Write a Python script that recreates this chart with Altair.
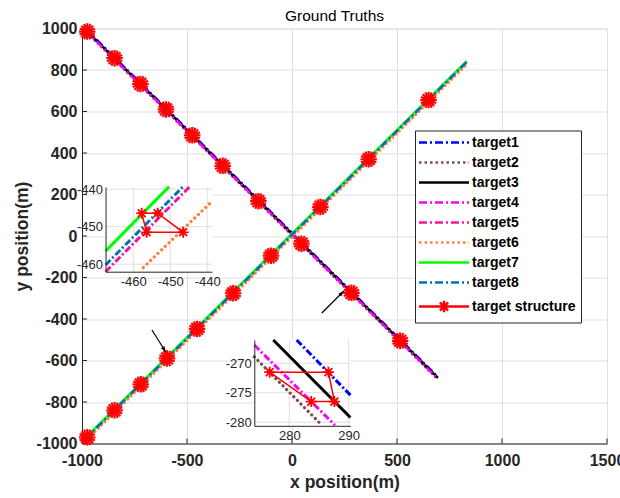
import altair as alt
import pandas as pd

# ---------------- data ----------------
target_names = ["target1", "target2", "target3", "target4",
                "target5", "target6", "target7", "target8"]
legend_names = target_names + ["target structure"]

# straight ground-truth trajectories: start / end points
traj_x0 = [-985, -985, -985, -985, -985, -985, -985, -985]
traj_y0 = [1000, 990, 996, 992, -980, -989, -974, -978]
traj_x1 = [695, 695, 695, 695, 832, 832, 832, 832]
traj_y1 = [-680, -690, -684, -688, 837, 828, 843, 839]

# formation (target structure) centres on both tracks
star_x = [-975, -845, -722, -600, -475, -330, -160, 45, 283, 515,
          -975, -845, -720, -595, -452, -280, -100, 135, 365, 650]
star_y = [985, 857, 733, 610, 485, 338, 168, -37, -274, -505,
          -970, -840, -715, -590, -448, -276, -95, 140, 370, 655]

# arrows (tail -> head)
arrow_x0 = [-667, 142]
arrow_y0 = [-453, -371]
arrow_x1 = [-601, 247]
arrow_y1 = [-559, -265]
arrow_angle = [147, 45]

# inset 1 (ascending track)
in1_xdom = [-467.5, -438.7]
in1_ydom = [-462.0, -439.4]
in1_xticks = [-460, -450, -440]
in1_yticks = [-460, -450, -440]
in1_lines = ["target7", "target8", "target5", "target6"]
in1_x0 = [-467.5, -467.5, -467.5, -457.3]
in1_y0 = [-456.5, -460.2, -462.0, -460.9]
in1_x1 = [-450.3, -446.5, -444.7, -439.3]
in1_y1 = [-439.3, -439.3, -439.3, -443.8]
in1_sx = [-457.7, -453.4, -446.5, -456.4, -457.7]
in1_sy = [-446.4, -446.4, -451.5, -451.5, -446.4]

# inset 2 (descending track)
in2_xdom = [274.1, 290.3]
in2_ydom = [-280.6, -266.05]
in2_xticks = [280, 290]
in2_yticks = [-280, -275, -270]
in2_lines = ["target3", "target1", "target4", "target2"]
in2_x0 = [277.3, 281.25, 274.1, 274.1]
in2_y0 = [-266.05, -266.05, -266.9, -268.9]
in2_x1 = [290.3, 290.3, 287.7, 285.5]
in2_y1 = [-279.2, -275.4, -280.5, -280.5]
in2_sx = [276.7, 286.6, 287.6, 283.7, 276.7]
in2_sy = [-271.5, -271.5, -276.5, -276.5, -271.5]

# ---------------- styles ----------------
FONT = "Liberation Sans"
DARK = "#262626"
GRID = "#dfdfdf"
colors = {"target1": "#0000FF", "target2": "#7E4F4F", "target3": "#000000",
          "target4": "#FF00FF", "target5": "#F0169B", "target6": "#FF7F3F",
          "target7": "#00FF00", "target8": "#0072BD", "target structure": "#FF0000"}
dashdot = [8, 3, 2, 3]
dot = [0.1, 4.5]
dashes = {"target1": dashdot, "target2": dot, "target3": None, "target4": dashdot,
          "target5": dashdot, "target6": dot, "target7": None, "target8": dashdot}
legend_dash = {"target1": [8, 3, 2, 3], "target2": [2.5, 3], "target3": [1, 0],
               "target4": [8, 3, 2, 3], "target5": [8, 3, 2, 3], "target6": [2.5, 3],
               "target7": [1, 0], "target8": [8, 3, 2, 3], "target structure": [1, 0]}
LINEPATH = "M-5,0L5,0"
STARLEG = "M-5,0L5,0M0,-1.15L0,1.15M-0.82,-0.82L0.82,0.82M-0.82,0.82L0.82,-0.82"
ASTER = "M0,-1L0,1M-1,0L1,0M-0.71,-0.71L0.71,0.71M-0.71,0.71L0.71,-0.71"
HEAD = "M0,0L-0.45,1.3L0.45,1.3Z"

W, H = 525, 415

# ---------------- main panel ----------------
xs = alt.Scale(domain=[-1000, 1500], nice=False, zero=False)
ys = alt.Scale(domain=[-1000, 1000], nice=False, zero=False)
common_axis = dict(grid=True, gridColor=GRID, gridWidth=1, ticks=False,
                   domainColor=DARK, domainWidth=1,
                   labelFont=FONT, labelFontSize=16, labelFontWeight="bold",
                   labelColor=DARK, labelFlush=False, labelOverlap=False,
                   labelBound=False, labelExpr="'' + datum.value",
                   titleFont=FONT, titleFontSize=17.5, titleFontWeight="bold",
                   titleColor=DARK)
x_axis = alt.Axis(orient="bottom", values=[-1000, -500, 0, 500, 1000, 1500],
                  title="x position(m)", labelPadding=9, titlePadding=5, **common_axis)
y_axis = alt.Axis(orient="left", values=list(range(-1000, 1001, 200)),
                  title="y position(m)", labelPadding=5, titlePadding=5, **common_axis)


def MX(f="x"):
    return alt.X(f"{f}:Q", scale=xs, axis=x_axis)


def MY(f="y"):
    return alt.Y(f"{f}:Q", scale=ys, axis=y_axis)


main_layers = []

# inward ticks
xt = pd.DataFrame({"x": [-1000, -500, 0, 500, 1000, 1500]})
main_layers.append(alt.Chart(xt).mark_rule(color=DARK, strokeWidth=1).encode(
    x=MX(), y=alt.value(H), y2=alt.value(H - 5)))
yt = pd.DataFrame({"y": list(range(-1000, 1001, 200))})
main_layers.append(alt.Chart(yt).mark_rule(color=DARK, strokeWidth=1).encode(
    y=MY(), x=alt.value(0), x2=alt.value(5)))

for i, name in enumerate(target_names):
    df = pd.DataFrame({"x": [traj_x0[i], traj_x1[i]], "y": [traj_y0[i], traj_y1[i]]})
    kw = dict(color=colors[name], strokeWidth=2.5)
    if dashes[name] is not None:
        kw["strokeDash"] = dashes[name]
    if dashes[name] is dot:
        kw["strokeCap"] = "round"
        kw["strokeWidth"] = 3
    main_layers.append(alt.Chart(df).mark_line(**kw).encode(x=MX(), y=MY()))

stars = pd.DataFrame({"x": star_x, "y": star_y})
for ang in (0, 22.5):
    main_layers.append(alt.Chart(stars).mark_point(
        shape=ASTER, filled=False, color="#FF0000", strokeWidth=2.2, size=272,
        angle=ang, opacity=1).encode(x=MX(), y=MY()))

arr_rows = []
for k in range(len(arrow_x0)):
    arr_rows.append({"id": k, "x": arrow_x0[k], "y": arrow_y0[k]})
    arr_rows.append({"id": k, "x": arrow_x1[k], "y": arrow_y1[k]})
main_layers.append(alt.Chart(pd.DataFrame(arr_rows)).mark_line(
    color="black", strokeWidth=1.2).encode(x=MX(), y=MY(), detail="id:N"))
heads = pd.DataFrame({"x": arrow_x1, "y": arrow_y1, "a": arrow_angle})
main_layers.append(alt.Chart(heads).mark_point(
    shape=HEAD, filled=True, color="black", size=80, opacity=1).encode(
    x=MX(), y=MY(), angle=alt.Angle("a:Q", scale=None)))

# legend-only layer (no drawable rows)
leg_df = pd.DataFrame({"name": legend_names, "x": [None] * 9, "y": [None] * 9})
legend = alt.Legend(title=None, orient="none", legendX=333, legendY=102,
                    symbolSize=100, symbolStrokeWidth=2.5, symbolOffset=17,
                    labelOffset=21, labelFont=FONT, labelFontSize=14,
                    labelFontWeight="bold", labelColor="black",
                    labelExpr="datum.label == 'target structure' ? '\u00a0target structure\u00a0\u00a0' : datum.label",
                    strokeColor=DARK, fillColor="white", padding=5, rowPadding=6,
                    labelLimit=300)
main_layers.append(alt.Chart(leg_df).mark_point(filled=False, opacity=1).encode(
    x=MX(), y=MY(),
    color=alt.Color("name:N", scale=alt.Scale(domain=legend_names,
                                              range=[colors[n] for n in legend_names]),
                    legend=legend),
    shape=alt.Shape("name:N", scale=alt.Scale(domain=legend_names,
                                              range=[LINEPATH] * 8 + [STARLEG]),
                    legend=legend),
    strokeDash=alt.StrokeDash("name:N", scale=alt.Scale(domain=legend_names,
                                                        range=[legend_dash[n] for n in legend_names]),
                              legend=legend),
))

main = alt.layer(*main_layers)


# ---------------- insets ----------------
def make_inset(xdom, ydom, xr, yr, xoff, yoff, xticks, yticks,
               names, x0, y0, x1, y1, sx_, sy_):
    sx = alt.Scale(domain=xdom, range=xr, nice=False, zero=False)
    sy = alt.Scale(domain=ydom, range=yr, nice=False, zero=False)
    ia = dict(grid=False, ticks=False, title=None, domainColor=DARK, domainWidth=1,
              labelFont=FONT, labelFontSize=13, labelColor=DARK, labelFlush=False,
              labelOverlap=False, labelBound=False, zindex=1,
              labelExpr="'' + datum.value")
    ax = alt.Axis(orient="bottom", offset=xoff, values=xticks, labelPadding=4, **ia)
    ay = alt.Axis(orient="left", offset=yoff, values=yticks, labelPadding=3, **ia)

    def IX(f="x"):
        return alt.X(f"{f}:Q", scale=sx, axis=ax)

    def IY(f="y"):
        return alt.Y(f"{f}:Q", scale=sy, axis=ay)

    L = []
    bg = pd.DataFrame({"x": [xdom[0]], "x2": [xdom[1]], "y": [ydom[0]], "y2": [ydom[1]]})
    L.append(alt.Chart(bg).mark_rect(fill="white", stroke=None).encode(
        x=IX(), x2="x2:Q", y=IY(), y2="y2:Q"))
    gv = pd.DataFrame({"x": xticks, "y": [ydom[0]] * len(xticks), "y2": [ydom[1]] * len(xticks)})
    L.append(alt.Chart(gv).mark_rule(color=GRID, strokeWidth=1).encode(
        x=IX(), y=IY(), y2="y2:Q"))
    gh = pd.DataFrame({"y": yticks, "x": [xdom[0]] * len(yticks), "x2": [xdom[1]] * len(yticks)})
    L.append(alt.Chart(gh).mark_rule(color=GRID, strokeWidth=1).encode(
        y=IY(), x=IX(), x2="x2:Q"))
    for i, name in enumerate(names):
        df = pd.DataFrame({"x": [x0[i], x1[i]], "y": [y0[i], y1[i]]})
        kw = dict(color=colors[name], strokeWidth=3)
        if dashes[name] is dashdot:
            kw["strokeDash"] = [7, 2.5, 2, 2.5]
        elif dashes[name] is dot:
            kw["strokeDash"] = [0.1, 5]
            kw["strokeCap"] = "round"
            kw["strokeWidth"] = 3.2
        L.append(alt.Chart(df).mark_line(**kw).encode(x=IX(), y=IY()))
    st = pd.DataFrame({"x": sx_, "y": sy_, "i": list(range(len(sx_)))})
    L.append(alt.Chart(st).mark_line(color="#FF0000", strokeWidth=1.5).encode(
        x=IX(), y=IY(), order="i:Q"))
    L.append(alt.Chart(st.iloc[:-1]).mark_point(
        shape=ASTER, filled=False, color="#FF0000", strokeWidth=1.8, size=121,
        opacity=1).encode(x=IX(), y=IY()))
    return alt.layer(*L)


ins1 = make_inset(in1_xdom, in1_ydom, [23.55, 130.0], [243.2, 158.45], 243.2 - H, -23.55,
                  in1_xticks, in1_yticks, in1_lines, in1_x0, in1_y0, in1_x1, in1_y1,
                  in1_sx, in1_sy)
ins2 = make_inset(in2_xdom, in2_ydom, [172.3, 268.4], [397.3, 311.5], 397.3 - H, -172.3,
                  in2_xticks, in2_yticks, in2_lines, in2_x0, in2_y0, in2_x1, in2_y1,
                  in2_sx, in2_sy)

chart = alt.layer(main, ins1, ins2).resolve_scale(
    x="independent", y="independent"
).properties(
    width=W, height=H,
    title=alt.TitleParams("Ground Truths", font=FONT, fontSize=15.5, fontWeight="normal",
                          color="black", anchor="middle", frame="group", dx=-10,
                          offset=7, dy=12.5),
    autosize=alt.AutoSizeParams(type="none"),
    padding={"left": 82, "top": 28.5, "right": 13, "bottom": 54.5},
).configure_view(stroke=None).configure(background="white")

chart.save("out.html", embed_options={"renderer": "svg", "actions": False})
